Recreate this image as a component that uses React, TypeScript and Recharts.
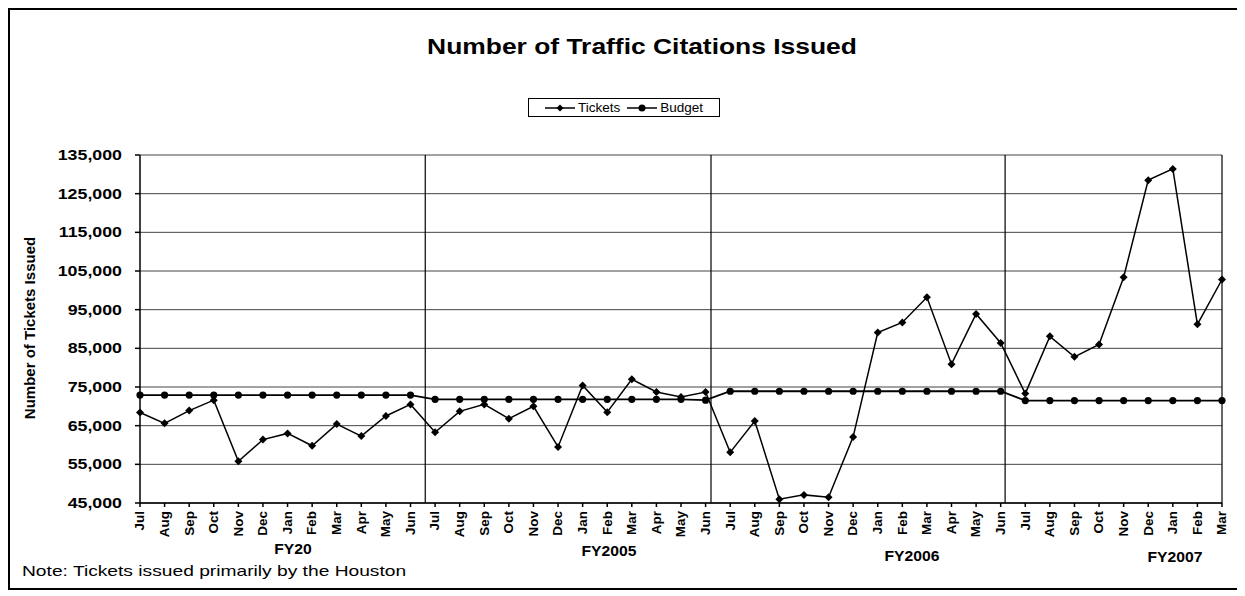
import { CartesianGrid, Line, LineChart, ReferenceLine, XAxis, YAxis } from 'recharts';

const months = ['Jul', 'Aug', 'Sep', 'Oct', 'Nov', 'Dec', 'Jan', 'Feb', 'Mar', 'Apr', 'May', 'Jun'];

// FY2004 .. FY2007 (FY2007 runs to March)
const tickets2004 = [68400, 65600, 68900, 71600, 55800, 61400, 63000, 59800, 65400, 62300, 67500, 70500];
const tickets2005 = [63300, 68700, 70500, 66800, 70000, 59500, 75400, 68500, 77000, 73700, 72400, 73700];
const tickets2006 = [58100, 66200, 46000, 47100, 46500, 62100, 89100, 91700, 98200, 80900, 93900, 86400];
const tickets2007 = [73300, 88100, 82800, 86000, 103400, 128500, 131400, 91200, 102800];

const budget2004 = [72900, 72900, 72900, 72900, 72900, 72900, 72900, 72900, 72900, 72900, 72900, 72900];
const budget2005 = [71800, 71800, 71800, 71800, 71800, 71800, 71800, 71800, 71800, 71800, 71800, 71600];
const budget2006 = [73900, 73900, 73900, 73900, 73900, 73900, 73900, 73900, 73900, 73900, 73900, 73900];
const budget2007 = [71500, 71500, 71500, 71500, 71500, 71500, 71500, 71500, 71500];

const yTicks = [45000, 55000, 65000, 75000, 85000, 95000, 105000, 115000, 125000, 135000];
const fiscalBreaks = [11.6, 23.22, 35.18, 44];
const fyLabels = ['FY20', 'FY2005', 'FY2006', 'FY2007'];

const tickets = [...tickets2004, ...tickets2005, ...tickets2006, ...tickets2007];
const budget = [...budget2004, ...budget2005, ...budget2006, ...budget2007];
const labels = tickets.map((_, i) => months[i % 12]);

const data = tickets.map((t, i) => ({ idx: i, month: labels[i], tickets: t, budget: budget[i] }));
const xTicks = data.map((d) => d.idx);

const FONT = '"Liberation Sans", Arial, sans-serif';

function Diamond(props: any) {
    const { cx, cy, index } = props;
    if (cx == null || cy == null) return <g key={`d${index}`} />;
    return <path key={`d${index}`} d={`M${cx},${cy - 4}L${cx + 4},${cy}L${cx},${cy + 4}L${cx - 4},${cy}Z`} fill="#000" />;
}

function Dot(props: any) {
    const { cx, cy, index } = props;
    if (cx == null || cy == null) return <g key={`c${index}`} />;
    return <circle key={`c${index}`} cx={cx} cy={cy} r={3.6} fill="#000" />;
}

function MonthTick(props: any) {
    const { x, y, payload } = props;
    return (
        <text
            x={0}
            y={0}
            transform={`translate(${x},${y + 2}) rotate(-90) scale(1.12,1)`}
            textAnchor="end"
            dy="0.36em"
            fontFamily={FONT}
            fontWeight="bold"
            fontSize={12}
            fill="#000"
        >
            {labels[payload.value]}
        </text>
    );
}

function ValueTick(props: any) {
    const { x, y, payload } = props;
    return (
        <text
            x={0}
            y={0}
            transform={`translate(${x},${y}) scale(1.27,1)`}
            textAnchor="end"
            dy="0.36em"
            fontFamily={FONT}
            fontWeight="bold"
            fontSize={14}
            fill="#000"
        >
            {Number(payload.value).toLocaleString('en-US')}
        </text>
    );
}

const abs = (left: number, top: number, extra: any = {}) => ({
    position: 'absolute' as const,
    left,
    top,
    fontFamily: FONT,
    color: '#000',
    whiteSpace: 'nowrap' as const,
    lineHeight: 1,
    ...extra,
});

const fyPos = [
    [283, 539],
    [599, 541],
    [902, 546],
    [1165, 547],
];

export default function App() {
    return (
        <div
            style={{
                position: 'relative',
                width: 1232,
                height: 582,
                border: '2px solid #000',
                boxSizing: 'border-box',
                background: '#fff',
            }}
        >
            <LineChart width={1228} height={578} data={data} margin={{ top: 145, right: 16, bottom: 45, left: 50 }}>
                <CartesianGrid vertical={false} stroke="#444" strokeWidth={1} />
                <XAxis
                    dataKey="idx"
                    type="number"
                    domain={[0, 44]}
                    ticks={xTicks}
                    interval={0}
                    tick={<MonthTick />}
                    tickSize={4}
                    height={40}
                    stroke="#000"
                    strokeWidth={1.5}
                />
                <YAxis
                    domain={[45000, 135000]}
                    ticks={yTicks}
                    interval={0}
                    width={80}
                    tickSize={5}
                    tickMargin={13}
                    tick={<ValueTick />}
                    stroke="#000"
                    strokeWidth={1.5}
                />
                {fiscalBreaks.map((x) => (
                    <ReferenceLine key={x} x={x} stroke="#000" strokeWidth={1.2} />
                ))}
                <Line dataKey="budget" stroke="#000" strokeWidth={1.8} dot={Dot} isAnimationActive={false} />
                <Line dataKey="tickets" stroke="#000" strokeWidth={1.5} dot={Diamond} isAnimationActive={false} />
            </LineChart>

            <div
                style={abs(632, 37, {
                    fontSize: 22,
                    fontWeight: 'bold',
                    transform: 'translate(-50%, -50%) scaleX(1.2)',
                })}
            >
                Number of Traffic Citations Issued
            </div>

            <div
                style={abs(518, 88, {
                    width: 192,
                    height: 19,
                    border: '1px solid #000',
                    boxSizing: 'border-box',
                    fontSize: 13.5,
                    display: 'flex',
                    alignItems: 'center',
                    justifyContent: 'center',
                    gap: 3,
                })}
            >
                <svg width={30} height={10}>
                    <line x1={0} y1={5} x2={30} y2={5} stroke="#000" strokeWidth={1.5} />
                    <path d="M15,1.5L18.5,5L15,8.5L11.5,5Z" fill="#000" />
                </svg>
                <span style={{ marginRight: 4 }}>Tickets</span>
                <svg width={30} height={10}>
                    <line x1={0} y1={5} x2={30} y2={5} stroke="#000" strokeWidth={1.5} />
                    <circle cx={15} cy={5} r={3.5} fill="#000" />
                </svg>
                <span>Budget</span>
            </div>

            <div
                style={abs(19, 318, {
                    fontSize: 15,
                    fontWeight: 'bold',
                    transform: 'translate(-50%, -50%) rotate(-90deg)',
                })}
            >
                Number of Tickets Issued
            </div>

            {fyLabels.map((label, i) => (
                <div
                    key={label}
                    style={abs(fyPos[i][0], fyPos[i][1], {
                        fontSize: 14,
                        fontWeight: 'bold',
                        transform: 'translate(-50%, -50%) scaleX(1.12)',
                    })}
                >
                    {label}
                </div>
            ))}

            <div
                style={abs(12, 560, {
                    fontSize: 15,
                    transform: 'translateY(-50%) scaleX(1.28)',
                    transformOrigin: 'left center',
                })}
            >
                Note: Tickets issued primarily by the Houston
            </div>
        </div>
    );
}
